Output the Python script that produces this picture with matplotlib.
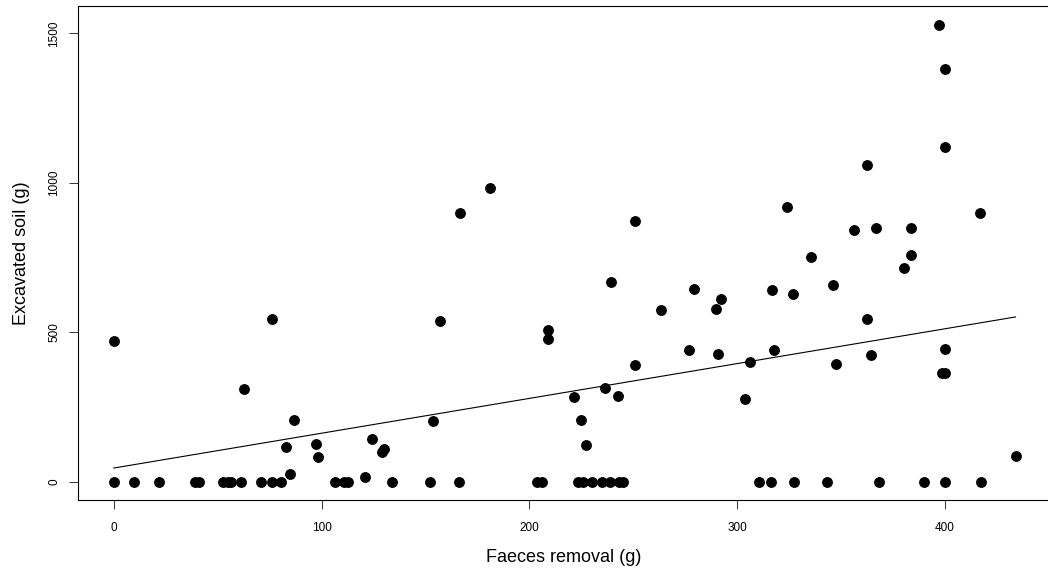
import numpy as np
import matplotlib
matplotlib.use("Agg")
import matplotlib.pyplot as plt

plt.rcParams['font.family'] = ['Liberation Sans', 'DejaVu Sans']

# points with some excavated soil
faeces_pos = [0, 75.9, 62.6, 86.6, 82.8, 97.5, 98, 124, 129, 130, 84.6, 121,
              156.9, 208.7, 208.7, 263.2, 251, 236.3, 242.4, 221.4, 153.4, 224.7,
              227.3, 289.6, 292, 362.5, 277, 290.5, 317.8, 306, 347.4, 364.6,
              400.2, 398.5, 400, 303.5, 433.9, 397, 400.2, 400.2, 362.5, 323.7,
              416.9, 356.1, 367, 383.6, 335.3, 383.6, 380, 279.1, 316.7, 327,
              345.9, 180.9, 166.5, 251, 239]
soil_pos = [472, 546, 309, 207, 115, 127, 83, 142, 100, 110, 25, 15,
            537, 509, 479, 576, 390, 314, 288, 283, 202, 208,
            123, 578, 612, 546, 440, 428, 440, 400, 394, 423,
            443, 365, 363, 278, 86, 1528, 1381, 1121, 1059, 919,
            901, 841, 850, 850, 751, 760, 714, 645, 641, 627,
            660, 983, 898, 872, 670]

# points with no excavated soil
faeces_zero = [0, 9.6, 21.7, 39, 41, 52.6, 54.7, 56.6, 61.3, 70.7, 76.2, 80.2,
               106.4, 110.8, 112.9, 133.8, 152.2, 165.9, 203.4, 205.8, 223.5,
               225.9, 230.2, 234.7, 238.7, 243.2, 245.1, 310.4, 316.2, 327.2,
               343, 368.1, 389.8, 400.2, 417.2]
soil_zero = [0] * len(faeces_zero)

# fitted model line
fit_intercept = 46
fit_slope = 1.165

x = np.array(faeces_pos + faeces_zero)
y = np.array(soil_pos + soil_zero)
xl = np.array([x.min(), x.max()])

fig = plt.figure(figsize=(10.48, 5.78), dpi=100)
ax = fig.add_axes([77.7 / 1048, 78 / 578, (1050 - 77.7) / 1048, 494 / 578])

ax.plot(x, y, 'o', color='black', ms=6.8, mec='black')
ax.plot(xl, fit_intercept + fit_slope * xl, color='black', lw=0.8)

ax.set_xlim(-17.4, 450.5)
ax.set_ylim(-61, 1592)
ax.set_xticks([0, 100, 200, 300, 400])
ax.set_yticks([0, 500, 1000, 1500])

for s in ax.spines.values():
    s.set_linewidth(0.8)
ax.tick_params(direction='out', length=6.5, width=0.7, labelsize=8.5, color='#333333')
ax.tick_params(axis='x', pad=9)
ax.tick_params(axis='y', pad=6)
plt.setp(ax.get_yticklabels(), rotation=90, va='center', ha='right')

ax.set_xlabel('Faeces removal (g)', fontsize=13, va='center')
ax.xaxis.set_label_coords(0.5, -58 / 494)
ax.set_ylabel('Excavated soil (g)', fontsize=13, va='center')
ax.yaxis.set_label_coords(-56 / 972, 0.5)

fig.savefig('out.png', dpi=100)
